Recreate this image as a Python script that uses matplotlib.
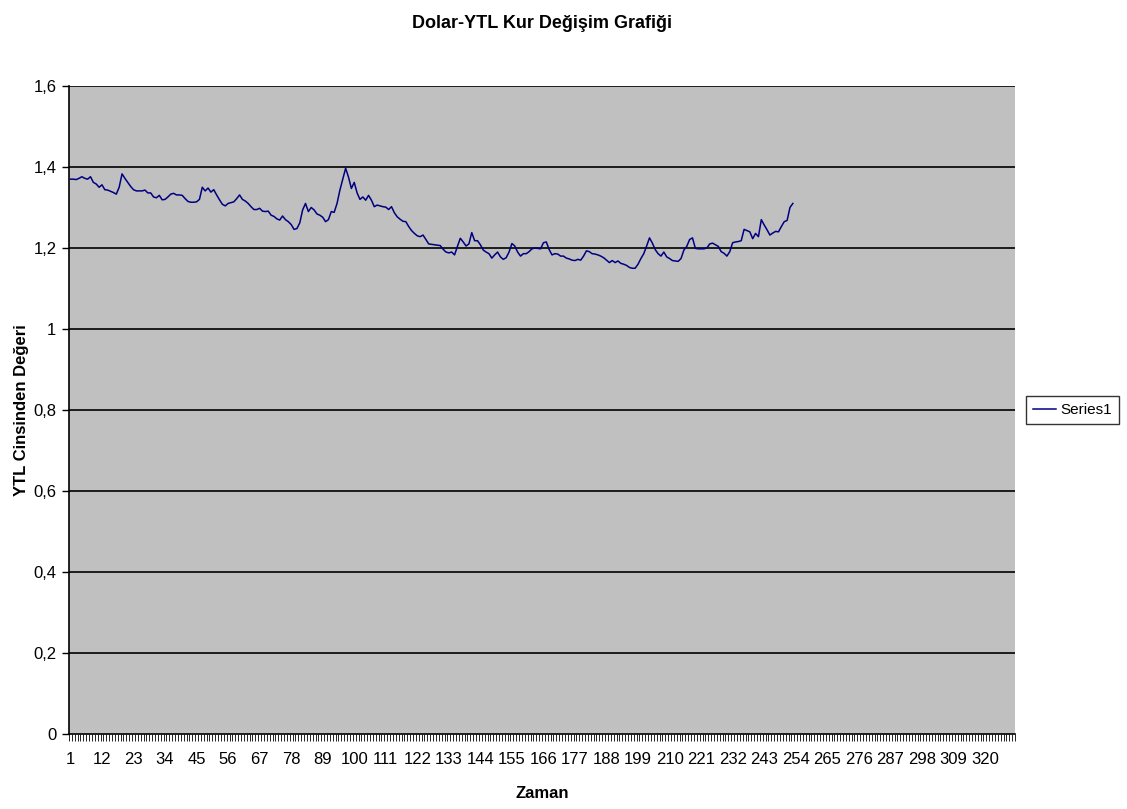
import numpy as np
import matplotlib.pyplot as plt
from matplotlib.ticker import FixedLocator, FuncFormatter

# Dolar/YTL kuru, gunluk gozlemler (1..253)
kur = [
    1.370, 1.370, 1.369, 1.372, 1.376, 1.372, 1.370, 1.376, 1.362, 1.358,
    1.350, 1.356, 1.344, 1.343, 1.340, 1.337, 1.333, 1.350, 1.383, 1.372,
    1.362, 1.352, 1.344, 1.341, 1.341, 1.341, 1.343, 1.336, 1.336, 1.326,
    1.324, 1.330, 1.319, 1.320, 1.326, 1.333, 1.335, 1.331, 1.331, 1.330,
    1.322, 1.315, 1.313, 1.313, 1.314, 1.320, 1.350, 1.341, 1.348, 1.338,
    1.344, 1.331, 1.319, 1.308, 1.304, 1.310, 1.312, 1.314, 1.322, 1.331,
    1.320, 1.316, 1.310, 1.302, 1.295, 1.295, 1.298, 1.291, 1.290, 1.291,
    1.281, 1.278, 1.272, 1.269, 1.279, 1.270, 1.265, 1.258, 1.246, 1.248,
    1.262, 1.294, 1.310, 1.290, 1.300, 1.294, 1.284, 1.281, 1.276, 1.265,
    1.270, 1.290, 1.288, 1.310, 1.343, 1.370, 1.397, 1.375, 1.347, 1.362,
    1.336, 1.320, 1.326, 1.318, 1.330, 1.318, 1.302, 1.306, 1.304, 1.302,
    1.301, 1.295, 1.302, 1.287, 1.277, 1.271, 1.266, 1.265, 1.253, 1.243,
    1.236, 1.230, 1.228, 1.232, 1.221, 1.210, 1.209, 1.208, 1.207, 1.206,
    1.197, 1.190, 1.188, 1.190, 1.183, 1.204, 1.224, 1.215, 1.205, 1.210,
    1.238, 1.218, 1.218, 1.208, 1.195, 1.190, 1.186, 1.175, 1.183, 1.190,
    1.178, 1.172, 1.176, 1.190, 1.211, 1.205, 1.190, 1.180, 1.186, 1.186,
    1.191, 1.198, 1.200, 1.199, 1.198, 1.213, 1.215, 1.196, 1.183, 1.186,
    1.185, 1.180, 1.180, 1.175, 1.173, 1.170, 1.169, 1.172, 1.170, 1.180,
    1.193, 1.191, 1.186, 1.185, 1.183, 1.180, 1.176, 1.170, 1.164, 1.169,
    1.164, 1.168, 1.162, 1.160, 1.157, 1.152, 1.150, 1.150, 1.160, 1.174,
    1.186, 1.205, 1.225, 1.212, 1.196, 1.186, 1.180, 1.190, 1.178, 1.174,
    1.169, 1.168, 1.167, 1.174, 1.195, 1.204, 1.221, 1.225, 1.199, 1.198,
    1.198, 1.198, 1.200, 1.210, 1.212, 1.208, 1.204, 1.191, 1.187, 1.180,
    1.191, 1.213, 1.215, 1.216, 1.218, 1.246, 1.243, 1.240, 1.223, 1.236,
    1.228, 1.270, 1.257, 1.245, 1.232, 1.237, 1.241, 1.240, 1.253, 1.265,
    1.268, 1.300, 1.310,
]
n_kategori = 330
x_etiketleri = list(range(1, 321, 11))
y_degerleri = [0, 0.2, 0.4, 0.6, 0.8, 1.0, 1.2, 1.4, 1.6]

plt.rcParams["font.family"] = ["Liberation Sans", "DejaVu Sans"]


def virgul(v, _pos):
    # 1,4 gibi; tam sayilar ondaliksiz
    if abs(v - round(v)) < 1e-9:
        return str(int(round(v)))
    return f"{v:.1f}".replace(".", ",")


fig = plt.figure(figsize=(11.27, 8.09), dpi=100)
ax = fig.add_axes([69 / 1127, 1 - 734 / 809, 946 / 1127, 648 / 809])
ax.set_facecolor("#c0c0c0")

zaman = np.arange(1, len(kur) + 1)
for y in y_degerleri[1:]:
    ax.axhline(y, color="black", linewidth=1.2, zorder=1)
ax.plot(zaman, kur, color="#000080", linewidth=1.1, label="Series1", zorder=3)

ax.set_xlim(0.5, n_kategori + 0.5)
ax.set_ylim(0, 1.6)

ax.yaxis.set_major_locator(FixedLocator(y_degerleri))
ax.yaxis.set_major_formatter(FuncFormatter(virgul))
ax.xaxis.set_major_locator(FixedLocator(x_etiketleri))
ax.xaxis.set_minor_locator(FixedLocator(np.arange(0.5, n_kategori + 1, 1)))
ax.tick_params(axis="x", which="major", length=0, pad=13, labelsize=12)
ax.tick_params(axis="x", which="minor", length=5, width=0.6, direction="out")
ax.tick_params(axis="y", length=5, width=1, direction="out", pad=4, labelsize=12)

for side in ("top", "right"):
    ax.spines[side].set_visible(False)
ax.spines["left"].set_linewidth(1.2)
ax.spines["bottom"].set_linewidth(1.2)

ax.set_title("Dolar-YTL Kur Değişim Grafiği", fontsize=13, fontweight="bold",
             pad=42)
ax.set_xlabel("Zaman", fontsize=12, fontweight="bold", labelpad=14)
ax.set_ylabel("YTL Cinsinden Değeri", fontsize=12, fontweight="bold", labelpad=3)

leg = ax.legend(loc="center left", bbox_to_anchor=(1.012, 0.5), frameon=True,
                fancybox=False, edgecolor="black", fontsize=11,
                handlelength=1.5, handletextpad=0.3, borderpad=0.45,
                borderaxespad=0)
leg.get_frame().set_linewidth(1.0)

plt.savefig("out.png", dpi=100)
plt.close()
